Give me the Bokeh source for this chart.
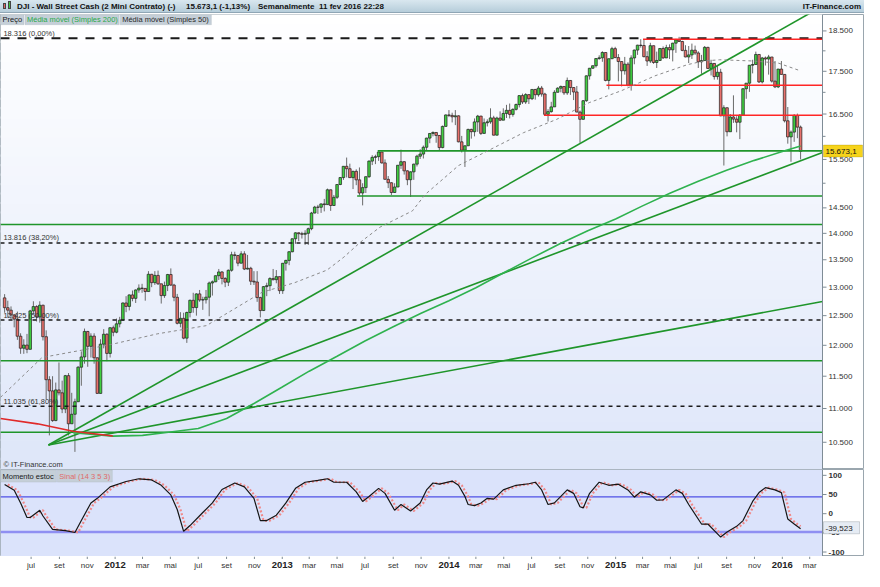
import numpy as np
import pandas as pd
from bokeh.plotting import figure
from bokeh.models import ColumnDataSource, Range1d, Label, BoxAnnotation, Span, Div
from bokeh.layouts import column
from bokeh.core.properties import value
from bokeh.embed import file_html
from bokeh.resources import INLINE

# ---------------- weekly OHLC (Wall Street Cash / DJI), weeks starting Monday ----------------
week_start = "2011-05-02"

opens_2011 = [12810,12638,12595,12512,12441,12151,11952,12004,11934,12582,12657,12479,12681,12143,11445,11270,10818,11285,11240,10992,11509,10771,10913,11103,11644,11809,12231,11983,12153,11796,11231,12019,12184,11867,12294]
highs_2011 = [12876,12760,12660,12530,12570,12200,12100,12190,12600,12750,12680,12750,12690,12250,11500,11500,11400,11720,11430,11520,11550,11240,11150,11660,11900,12280,12240,12200,12200,11800,12100,12270,12200,12300,12330]
lows_2011 = [12550,12470,12440,12300,12090,11860,11860,11870,11930,12530,12400,12380,12080,11140,10600,10800,10810,11200,10930,10930,10600,10770,10362,11100,11350,11700,11650,11800,11700,11230,11230,11950,11740,11800,12150]
closes_2011 = [12638,12595,12512,12441,12151,11952,12004,11934,12582,12657,12479,12681,12143,11445,11270,10818,11285,11240,10992,11509,10771,10913,11103,11644,11809,12231,11983,12153,11796,11231,12019,12184,11867,12294,12218]

opens_2012 = [12218,12360,12422,12720,12660,12862,12801,12950,12983,12978,12922,13233,13081,13212,13060,12850,13029,13228,13038,12820,12369,12454,12119,12554,12767,12640,12880,12772,12777,12822,13075,13096,13207,13275,13157,13090,13306,13593,13579,13437,13610,13328,13343,13107,13093,12815,12588,13010,13026,13155,13135,13190]
highs_2012 = [12450,12480,12730,12840,12870,12940,12960,13050,13060,12980,13290,13240,13290,13300,13060,13100,13240,13340,13060,12880,12560,12550,12570,12780,12900,12890,12950,12830,12950,13100,13120,13210,13330,13290,13180,13320,13650,13650,13590,13660,13660,13590,13370,13290,13290,12830,13020,13080,13180,13330,13310,13190]
lows_2012 = [12200,12300,12420,12560,12590,12750,12720,12900,12900,12760,12920,13000,13040,13040,12710,12810,12930,13020,12750,12350,12300,12100,12040,12470,12550,12500,12740,12600,12710,12490,12850,13090,13130,13050,13000,13020,13280,13500,13380,13430,13310,13320,13040,13040,12740,12470,12580,12840,12930,13120,13070,12880]
closes_2012 = [12360,12422,12720,12660,12862,12801,12950,12983,12978,12922,13233,13081,13212,13060,12850,13029,13228,13038,12820,12369,12454,12119,12554,12767,12640,12880,12772,12777,12822,13075,13096,13207,13275,13157,13090,13306,13593,13579,13437,13610,13328,13343,13107,13093,12815,12588,13010,13026,13155,13135,13190,12938]

opens_2013 = [12938,13435,13488,13650,13896,14010,13993,13982,14001,14090,14397,14515,14512,14579,14565,14865,14547,14713,14974,15118,15354,15303,15116,15248,15070,14800,14910,15136,15464,15544,15559,15659,15426,15081,15010,14810,14922,15376,15452,15258,15073,15237,15400,15570,15615,15762,15962,16064,16086,16020,15755,16221]
highs_2013 = [13440,13500,13660,13900,14020,14020,14030,14060,14110,14420,14540,14560,14590,14680,14890,14870,14760,14980,15130,15360,15540,15410,15260,15290,15330,15000,15140,15480,15590,15600,15670,15660,15500,15150,15020,15000,15380,15710,15460,15270,15250,15410,15600,15720,15800,15970,16070,16110,16090,16030,16240,16490]
lows_2013 = [12880,13300,13400,13640,13800,13850,13900,13780,13780,14060,14390,14380,14400,14430,14560,14440,14540,14680,14960,15070,15120,15110,14880,14960,14750,14550,14800,15110,15380,15400,15470,15410,15080,14900,14760,14800,14920,15300,15180,14960,14720,15070,15350,15510,15520,15700,15850,16000,15860,15700,15740,16220]
closes_2013 = [13435,13488,13650,13896,14010,13993,13982,14001,14090,14397,14515,14512,14579,14565,14865,14547,14713,14974,15118,15354,15303,15116,15248,15070,14800,14910,15136,15464,15544,15559,15659,15426,15081,15010,14810,14922,15376,15452,15258,15073,15237,15400,15570,15615,15762,15962,16064,16086,16020,15755,16221,16479]

opens_2014 = [16479,16469,16437,16459,15880,15699,15794,16154,16103,16322,16453,16066,16303,16323,16412,16027,16409,16361,16513,16584,16492,16606,16717,16924,16776,16947,16851,17068,16944,17100,16961,16493,16554,16663,17001,17098,17138,16988,17280,17113,17009,16544,16380,16805,17391,17574,17635,17810,17828,17959,17281,17805]
highs_2014 = [16590,16530,16590,16470,16010,15800,16170,16170,16400,16480,16460,16400,16380,16630,16460,16440,16560,16630,16710,16740,16630,16740,16930,16970,16980,16950,17070,17080,17150,17150,16990,16610,16780,17050,17120,17160,17140,17350,17280,17120,17150,16580,16820,17400,17580,17640,17820,17890,17990,17960,17810,18100]
lows_2014 = [16430,16310,16250,15870,15650,15340,15790,15950,16000,16100,16030,16060,16220,16280,16020,16020,16340,16360,16410,16400,16440,16580,16650,16730,16730,16730,16820,16830,16900,16900,16460,16330,16530,16660,17000,17000,16940,16940,16940,16820,16540,15860,16370,16780,17300,17560,17590,17780,17730,17260,17070,17800]
closes_2014 = [16469,16437,16459,15880,15699,15794,16154,16103,16322,16453,16066,16303,16323,16412,16027,16409,16361,16513,16584,16492,16606,16717,16924,16776,16947,16851,17068,16944,17100,16961,16493,16554,16663,17001,17098,17138,16988,17280,17113,17009,16544,16380,16805,17391,17574,17635,17810,17828,17959,17281,17805,18054]

opens_2015 = [18054,17833,17737,17512,17673,17165,17825,18019,18141,18133,17856,17749,18128,17713,17763,18058,17826,18080,18025,18191,18273,18232,18011,17849,17899,18016,17947,17730,17760,18086,17569,17690,17373,17477,16460,16643,16102,16433,16385,16315,16472,17084,17216,17647,17664,17910,17245,17824,17798,17848,17265,17128,17553]
highs_2015 = [18100,17920,17740,17850,17720,17890,18030,18150,18290,18290,17990,18200,18130,17980,18070,18110,18150,18160,18200,18300,18350,18250,18140,18120,18180,18130,17990,17900,18120,18100,17780,17700,17640,17560,16700,16650,16500,16930,16450,16500,17100,17220,17650,17780,17980,17920,17850,17860,17900,17850,17750,17560,17750]
lows_2015 = [17820,17260,17140,17420,17140,17040,17670,17900,18080,17840,17630,17700,17680,17580,17750,17800,17820,17800,17740,17950,18220,17990,17840,17700,17800,17900,17580,17440,17760,17560,17400,17300,17300,16450,15370,16000,16100,16300,16090,15940,16470,16850,17010,17450,17660,17220,17210,17640,17420,17230,17100,17100,17420]
closes_2015 = [17833,17737,17512,17673,17165,17825,18019,18141,18133,17856,17749,18128,17713,17763,18058,17826,18080,18025,18191,18273,18232,18011,17849,17899,18016,17947,17730,17760,18086,17569,17690,17373,17477,16460,16643,16102,16433,16385,16315,16472,17084,17216,17647,17664,17910,17245,17824,17798,17848,17265,17128,17553,17425]

opens_2016 = [17425,16347,15988,16094,16466,16205]
highs_2016 = [17430,16660,16130,16500,16510,16240]
lows_2016 = [16310,15840,15450,15880,15960,15500]
closes_2016 = [16347,15988,16094,16466,16205,15673.1]

opens = opens_2011 + opens_2012 + opens_2013 + opens_2014 + opens_2015 + opens_2016
highs = highs_2011 + highs_2012 + highs_2013 + highs_2014 + highs_2015 + highs_2016
lows = lows_2011 + lows_2012 + lows_2013 + lows_2014 + lows_2015 + lows_2016
closes = closes_2011 + closes_2012 + closes_2013 + closes_2014 + closes_2015 + closes_2016

# ---------------- moving averages ----------------
sma200_down_dates = ["2011-04-25", "2011-07-15", "2011-10-01", "2011-12-27"]
sma200_down_vals = [10850, 10770, 10660, 10590]
sma200_dates = ["2011-10-01", "2011-12-27", "2012-03-01", "2012-05-01", "2012-07-01", "2012-09-01", "2012-11-01",
                "2013-01-01", "2013-03-01", "2013-05-01", "2013-07-01", "2013-09-01", "2013-11-01",
                "2014-01-01", "2014-03-01", "2014-05-01", "2014-07-01", "2014-09-01", "2014-11-01",
                "2015-01-01", "2015-03-01", "2015-05-01", "2015-07-01", "2015-09-01", "2015-11-01",
                "2016-01-01", "2016-02-10"]
sma200_vals = [10640, 10590, 10600, 10650, 10700, 10850, 11080, 11330, 11580, 11820, 12070, 12310, 12540,
               12760, 12990, 13260, 13530, 13800, 14050, 14280, 14540, 14800, 15040, 15270, 15480,
               15670, 15790]
sma50_dates = ["2011-04-25", "2011-07-25", "2011-10-20", "2011-12-27", "2012-04-02", "2012-07-19",
               "2012-09-06", "2012-11-18", "2013-01-28", "2013-04-09", "2013-05-16", "2013-06-21",
               "2013-08-03", "2013-10-13", "2013-11-10", "2014-01-22", "2014-04-03", "2014-06-13",
               "2014-08-25", "2014-11-04", "2015-01-14", "2015-03-28", "2015-06-07", "2015-07-13",
               "2015-08-17", "2015-10-29", "2015-12-23", "2016-02-10"]
sma50_vals = [11170, 11800, 11920, 12020, 12190, 12330, 12560, 12910, 13080, 13310, 13550, 13830,
              14120, 14440, 14770, 15370, 15720, 16080, 16380, 16760, 17040, 17390, 17660, 17750,
              17780, 17750, 17700, 17510]

# ---------------- drawn levels ----------------
fib_vals = [18316, 13816, 12425, 11035]
fib_labels = ["18.316 (0,00%)", "13.816 (38,20%)", "12.425 (50,00%)", "11.035 (61,80%)"]
green_full_vals = [14172, 11748, 10646]
green_part_vals = [15684, 14738]
green_part_start = ["2013-07-29", "2013-06-14"]
red_vals = [18288, 17165, 16470]
red_start = ["2015-03-02", "2014-12-12", "2014-07-28"]
fan_origin_date = "2011-08-08"
fan_origin_price = 10460
fan_end_date = "2016-03-29"
fan_end_prices = [19144, 15650, 12745]
last_price_text = "15.673,1"

# ---------------- stochastic momentum ----------------
osc_week = [0,3,5,7,8,11,12,15,19,22,24,27,29,33,38,42,46,49,52,54,56,58,62,65,68,72,75,78,80,82,85,88,91,94,98,101,103,107,110,112,114,117,119,122,124,127,130,132,134,136,140,142,144,145,147,149,151,153,156,160,164,166,168,170,172,176,178,180,181,183,186,189,192,195,197,199,202,204,206,210,212,214,218,220,224,226,229,231,234,236,238,241,243,245,247,249]
osc_vals = [76,61,28,-10,-10,9,-6,-41,-44,-49,-18,28,40,70,84,91,88,74,49,11,-46,-31,3,28,63,80,70,40,-18,-18,-4,28,66,82,87,91,82,82,57,32,45,66,53,9,24,7,28,62,80,77,85,74,45,24,21,28,40,38,62,74,78,82,62,24,28,62,53,18,15,53,82,74,77,62,43,57,49,35,36,62,53,24,-27,-27,-61,-48,-33,-18,32,55,68,62,55,-14,-27,-39.523]
sig_week = [1,4,6,8,9,12,13,16,20,23,25,28,30,34,39,43,47,50,53,55,57,59,63,66,69,73,76,79,81,83,86,89,92,95,99,102,104,108,111,113,115,118,120,123,125,128,131,133,135,137,141,143,145,146,148,150,152,154,157,161,165,167,169,171,173,177,179,181,182,184,187,190,193,196,198,200,203,205,207,211,213,215,219,221,225,227,230,232,235,237,239,242,244,246,248,249]
sig_vals = [76,61,28,-10,-10,9,-6,-41,-44,-49,-18,28,40,70,84,91,88,74,49,11,-46,-31,3,28,63,80,70,40,-18,-18,-4,28,66,82,87,91,82,82,57,32,45,66,53,9,24,7,28,62,80,77,85,74,45,24,21,28,40,38,62,74,78,82,62,24,28,62,53,18,15,53,82,74,77,62,43,57,49,35,36,62,53,24,-27,-27,-61,-48,-33,-18,32,55,68,62,55,-14,-27,-33]
osc_levels = [44, -48]
osc_last_text = "-39,523"

# ---------------- axis labels ----------------
price_ticks = [10500, 11000, 11500, 12000, 12500, 13000, 13500, 14000, 14500, 15500, 16500, 17500, 18500]
price_minor = [15000, 16000, 17000, 18000]
osc_ticks = [-100, -50, 0, 50, 100]
month_abbr = ["jan", "fev", "mar", "abr", "mai", "jun", "jul", "ago", "set", "out", "nov", "dez"]

# ================= drawing =================
FONT = "Liberation Sans"
DAY = 86400000.0
AX = "#7f8c96"


def ms(d):
    return pd.Timestamp(d).value / 1e6


XS, XE = ms("2011-04-25"), ms("2016-03-29")   # data area of the chart
FW = 822                                        # data-area width in px
PX = (XE - XS) / FW                             # ms per screen px
XE_EXT = XS + 864 * PX                          # frame also covers the right-hand scale column


def X(px):  # reference pixel -> time (annotation placement)
    return XS + px / 838.0 * (XE - XS)


def YP(py):  # reference pixel -> price
    return 10500.0 * np.exp((454.0 - py) / 747.0)


def YO(py):  # reference pixel -> oscillator value
    return (527.7 - py) / 0.3967


y_lo, y_hi = YP(482), YP(14)
o_lo, o_hi = YO(572), YO(482)

weeks = pd.date_range(week_start, periods=len(closes), freq="7D")
xc = [ms(w) + 2 * DAY for w in weeks]

GREEN_C = "#41d041"
RED_C = "#e8716c"
src = ColumnDataSource(dict(
    x=xc, h=highs, l=lows,
    top=[max(a, b) for a, b in zip(opens, closes)],
    bot=[min(a, b) for a, b in zip(opens, closes)],
    color=[GREEN_C if c >= o else RED_C for o, c in zip(opens, closes)],
))

xr = Range1d(XS, XE_EXT)


def bare_fig(h, yr, ytype="linear"):
    f = figure(width=864, height=h, x_axis_type="datetime", y_axis_type=ytype,
               x_range=xr, y_range=yr, x_axis_location=None, y_axis_location=None,
               output_backend="svg", toolbar_location=None,
               min_border_left=0, min_border_right=0, min_border_top=0, min_border_bottom=0)
    f.xgrid.visible = False
    f.ygrid.visible = False
    f.border_fill_color = "white"
    f.background_fill_color = "white"
    return f


def right_scale(f, ticks, labels, minor=(), bold=False):
    f.add_layout(Span(location=XE, dimension="height", line_color=AX, line_width=1))
    f.segment(x0=[XE] * len(ticks), y0=ticks, x1=[XE + 4 * PX] * len(ticks), y1=ticks,
              line_color=AX, line_width=1)
    if minor:
        f.segment(x0=[XE] * len(minor), y0=list(minor), x1=[XE + 3 * PX] * len(minor), y1=list(minor),
                  line_color=AX, line_width=1)
    f.text(x=[XE + 6 * PX] * len(ticks), y=ticks, text=labels, text_font=value(FONT),
           text_font_size="8px", text_color="#333333", text_baseline="middle",
           text_font_style="bold" if bold else "normal")


# ---------------- main price panel ----------------
p = bare_fig(455, Range1d(y_lo, y_hi), "log")
p.outline_line_color = "#9aa6ae"

nb = 48
edges = np.geomspace(y_lo, y_hi, nb + 1)
for k in range(nb):
    t = k / (nb - 1)
    r = int(round(222 + 33 * t)); g = int(round(230 + 25 * t)); b = int(round(249 + 6 * t))
    p.add_layout(BoxAnnotation(right=XE, bottom=edges[k], top=edges[k + 1] * 1.003,
                               fill_color=f"#{r:02x}{g:02x}{b:02x}", fill_alpha=1.0,
                               line_color=None, level="underlay"))

# candles
p.segment(x0="x", y0="l", x1="x", y1="h", source=src, line_color="#6a6a6a", line_width=1)
p.vbar(x="x", width=5.6 * DAY, top="top", bottom="bot", fill_color="color",
       line_color="#1e1e1e", line_width=0.7, source=src)

# fib levels
for i, (v, t) in enumerate(zip(fib_vals, fib_labels)):
    if i == 0:
        p.segment(x0=[XS], y0=[v], x1=[XE], y1=[v], line_color="#1a1a1a", line_width=2, line_dash="9 8")
    else:
        p.segment(x0=[XS], y0=[v], x1=[XE], y1=[v], line_color="#1a1a1a", line_width=1.5, line_dash="4 4")
    p.add_layout(Label(x=X(3), y=v, text=t, text_font=FONT, text_font_size="7.5px",
                       text_color="#333333", text_baseline="bottom", y_offset=0.5))

# green / red horizontal levels
p.segment(x0=[XS] * len(green_full_vals), y0=green_full_vals, x1=[XE] * len(green_full_vals),
          y1=green_full_vals, line_color="#1f952a", line_width=1.6)
p.segment(x0=[ms(d) for d in green_part_start], y0=green_part_vals, x1=[XE] * len(green_part_vals),
          y1=green_part_vals, line_color="#1f952a", line_width=1.6)
p.segment(x0=[ms(d) for d in red_start], y0=red_vals, x1=[XE] * len(red_vals), y1=red_vals,
          line_color="#ff2626", line_width=1.5)

# fan lines
p.segment(x0=[ms(fan_origin_date)] * 3, y0=[fan_origin_price] * 3,
          x1=[ms(fan_end_date)] * 3, y1=fan_end_prices, line_color="#1f952a", line_width=1.6)

# moving averages
p.line([ms(d) for d in sma50_dates], sma50_vals, line_color="#8a8a8a", line_width=1, line_dash="3 3")
p.line([ms(d) for d in sma200_dates], sma200_vals, line_color="#2fb24f", line_width=1.6)
p.line([ms(d) for d in sma200_down_dates], sma200_down_vals, line_color="#e02a2a", line_width=1.6)

# legend strip (top-left)
for (a, bb, txt, col) in [(0, 24, "Preço", "#1a1a1a"), (25, 121, "Média móvel (Simples 200)", "#2aa84a"),
                          (122, 215, "Média móvel (Simples 50)", "#2a2a2a")]:
    p.add_layout(BoxAnnotation(left=X(a), right=X(bb), top=YP(14.2), bottom=YP(24.5),
                               fill_color="#c5cfd8", fill_alpha=1, line_color="#a8b3bb", line_width=1))
    p.add_layout(Label(x=X(a + 2), y=YP(19.5), text=txt, text_font=FONT, text_font_size="7.5px",
                       text_color=col, text_baseline="middle"))

p.add_layout(Label(x=X(3), y=YP(481), text="© IT-Finance.com", text_font=FONT, text_font_size="7.5px",
                   text_color="#333333", text_baseline="bottom"))

# right price scale + last price tag
right_scale(p, [float(t) for t in price_ticks], [f"{t:,}".replace(",", ".") for t in price_ticks],
            minor=[float(t) for t in price_minor])
p.add_layout(BoxAnnotation(left=XE + 1 * PX, right=XE + 40 * PX, top=YP(148.3), bottom=YP(160.5),
                           fill_color="#f6d31b", fill_alpha=1, line_color="#9c8400", line_width=1))
p.add_layout(Label(x=XE + 3 * PX, y=closes[-1], text=last_price_text, text_font=FONT,
                   text_font_size="8px", text_color="#111111", text_baseline="middle"))

# ---------------- oscillator panel ----------------
p2 = bare_fig(87, Range1d(o_lo, o_hi))
p2.outline_line_color = "#9aa6ae"
p2.add_layout(BoxAnnotation(right=XE, fill_color="#dbe3fb", fill_alpha=1, line_color=None, level="underlay"))
p2.segment(x0=[XS] * 2, y0=osc_levels, x1=[XE] * 2, y1=osc_levels,
           line_color=["#4f50e6", "#8f8ff2"], line_width=[1.2, 2.5])
p2.line([xc[i] for i in sig_week], sig_vals, line_color="#f08a8a", line_width=2.2, line_dash="2 2")
p2.line([xc[i] for i in osc_week], osc_vals, line_color="#151515", line_width=1.2)

for (a, bb, txt, col) in [(0, 57, "Momento estoc", "#1a1a1a"), (58, 114, "Sinal (14 3 5 3)", "#e06a6a")]:
    p2.add_layout(BoxAnnotation(left=X(a), right=X(bb), top=YO(482.5), bottom=YO(495),
                                fill_color="#c5cfd8", fill_alpha=1, line_color="#a8b3bb", line_width=1))
    p2.add_layout(Label(x=X(a + 2), y=YO(489), text=txt, text_font=FONT, text_font_size="7.5px",
                        text_color=col, text_baseline="middle"))

right_scale(p2, [float(t) for t in osc_ticks], [str(t) for t in osc_ticks], bold=True)
p2.add_layout(BoxAnnotation(left=XE + 1 * PX, right=XE + 37 * PX, top=YO(536), bottom=YO(548.5),
                            fill_color="#e6ecf4", fill_alpha=1, line_color="#6d7780", line_width=1))
p2.add_layout(Label(x=XE + 3 * PX, y=osc_vals[-1], text=osc_last_text, text_font=FONT,
                    text_font_size="8px", text_color="#222222", text_baseline="middle"))

# ---------------- time scale strip ----------------
p3 = bare_fig(15, Range1d(0, 15))
p3.outline_line_color = None
tick_dates = list(pd.date_range("2011-07-01", "2016-03-01", freq="2MS"))
tx = [ms(d) for d in tick_dates]
p3.segment(x0=tx, y0=[15] * len(tx), x1=tx, y1=[12.5] * len(tx), line_color=AX, line_width=1)
m_idx = [i for i, d in enumerate(tick_dates) if d.month != 1]
y_idx = [i for i, d in enumerate(tick_dates) if d.month == 1]
p3.text(x=[tx[i] for i in m_idx], y=[6.3] * len(m_idx),
        text=[month_abbr[tick_dates[i].month - 1] for i in m_idx],
        text_font=value(FONT), text_font_size="8px", text_color="#333333",
        text_align="center", text_baseline="middle")
p3.text(x=[tx[i] for i in y_idx], y=[6.3] * len(y_idx),
        text=[str(tick_dates[i].year) for i in y_idx],
        text_font=value(FONT), text_font_size="9.5px", text_font_style="bold", text_color="#222222",
        text_align="center", text_baseline="middle")

# ================= header =================
header_html = (
    '<div style="position:relative;width:864px;height:13px;overflow:hidden;'
    'background:linear-gradient(#d9e7ef,#b6cdda);border-bottom:1px solid #8fa6b5;'
    "font-family:'Liberation Sans',Arial,sans-serif;font-size:8px;line-height:10px;font-weight:bold;color:#111;\">"
    '<span style="position:absolute;left:3px;top:3px;width:3px;height:6px;background:#e06060;border:1px solid #444"></span>'
    '<span style="position:absolute;left:8px;top:1px;width:3px;height:8px;background:#40c040;border:1px solid #444"></span>'
    '<span style="position:absolute;left:17px;top:2px;">DJI - Wall Street Cash (2 Mini Contrato) (-)</span>'
    '<span style="position:absolute;left:186px;top:2px;">15.673,1 (-1,13%)</span>'
    '<span style="position:absolute;left:258px;top:2px;">Semanalmente</span>'
    '<span style="position:absolute;left:319px;top:2px;">11 fev 2016 22:28</span>'
    '<span style="position:absolute;right:3px;top:2px;">IT-Finance.com</span>'
    '</div>')
header = Div(text=header_html, width=864, height=14, margin=0)

layout = column(header, p, p2, p3, spacing=0)
open("out.html", "w").write(file_html(layout, INLINE, title="DJI - Wall Street Cash"))
